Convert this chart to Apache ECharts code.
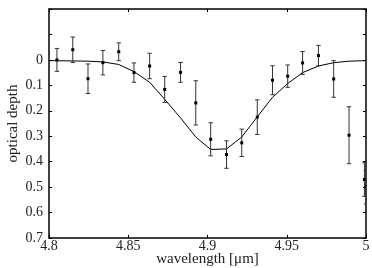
<!DOCTYPE html>
<html>
<head>
<meta charset="utf-8">
<script src="https://cdn.jsdelivr.net/npm/echarts@6/dist/echarts.min.js"></script>
<style>
  html, body { margin: 0; padding: 0; background: #fff; }
  #chart { width: 372px; height: 268px; }
</style>
</head>
<body>
<div id="chart"></div>
<script>
// measured points (wavelength in µm, optical depth, error)
var wavelength = [4.805, 4.815, 4.8246, 4.834, 4.844, 4.8536, 4.8635, 4.873, 4.883, 4.8926,
  4.902, 4.912, 4.9216, 4.9314, 4.941, 4.9506, 4.960, 4.970, 4.9796, 4.9893, 4.999, 5.0];
var depth = [0.0, -0.04, 0.074, 0.011, -0.032, 0.05, 0.024, 0.116, 0.049, 0.169,
  0.312, 0.372, 0.326, 0.225, 0.08, 0.064, 0.012, -0.017, 0.075, 0.296, 0.47, 0.5];
var err = [0.045, 0.05, 0.058, 0.048, 0.035, 0.038, 0.05, 0.051, 0.039, 0.087,
  0.065, 0.054, 0.054, 0.068, 0.057, 0.044, 0.045, 0.04, 0.072, 0.112, 0.066, 0.066];

// model curve
var modelX = [4.8, 4.815, 4.8246, 4.834, 4.844, 4.8536, 4.8635, 4.873, 4.883, 4.8926,
  4.902, 4.912, 4.9216, 4.9314, 4.941, 4.9506, 4.960, 4.970, 4.9796, 4.9893, 5.0];
var modelY = [0.003, 0.004, 0.005, 0.008, 0.018, 0.046, 0.088, 0.155, 0.228, 0.303,
  0.352, 0.35, 0.303, 0.224, 0.147, 0.093, 0.05, 0.024, 0.011, 0.005, 0.003];

var xTicks = [4.8, 4.85, 4.9, 4.95, 5];
var yTicks = [0, 0.1, 0.2, 0.3, 0.4, 0.5, 0.6, 0.7];

var chart = echarts.init(document.getElementById('chart'));
var font = 'Liberation Serif';

var points = wavelength.map(function (w, i) { return [w, depth[i], err[i]]; });
var model = modelX.map(function (w, i) { return [w, modelY[i]]; });

var tickStyle = {show: true, inside: true, length: 3, lineStyle: {color: '#000', width: 1}};
var lineStyle = {show: true, onZero: false, lineStyle: {color: '#000', width: 1.5}};

var option = {
  animation: false,
  grid: {left: 49, right: 6, top: 9, bottom: 30, containLabel: false, outerBoundsMode: 'none'},
  xAxis: [{
    type: 'value', min: 4.8, max: 5, interval: 0.05,
    name: 'wavelength [μm]', nameLocation: 'middle', nameGap: 14, nameMoveOverlap: false,
    nameTextStyle: {fontFamily: font, fontSize: 15, color: '#222'},
    axisLine: lineStyle, axisTick: tickStyle, splitLine: {show: false},
    axisLabel: {
      fontFamily: font, fontSize: 14, color: '#222', margin: 1,
      formatter: function (v) {
        var s = parseFloat(v.toFixed(2));
        return xTicks.indexOf(s) >= 0 ? String(s) : '';
      }
    }
  }, {
    type: 'value', position: 'top', min: 4.8, max: 5, interval: 0.05,
    axisLine: lineStyle, axisTick: tickStyle, axisLabel: {show: false}, splitLine: {show: false}
  }],
  yAxis: [{
    type: 'value', inverse: true, min: -0.2, max: 0.7, interval: 0.1,
    name: 'optical depth', nameLocation: 'middle', nameGap: 28, nameMoveOverlap: false,
    nameTextStyle: {fontFamily: font, fontSize: 15, color: '#222'},
    axisLine: lineStyle, axisTick: tickStyle, splitLine: {show: false},
    axisLabel: {
      fontFamily: font, fontSize: 14, color: '#222', margin: 6,
      formatter: function (v) {
        var s = Math.round(v * 10) / 10;
        return yTicks.indexOf(s) >= 0 ? String(s) : '';
      }
    }
  }, {
    type: 'value', position: 'right', inverse: true, min: -0.2, max: 0.7, interval: 0.1,
    axisLine: lineStyle, axisTick: tickStyle, axisLabel: {show: false}, splitLine: {show: false}
  }],
  series: [{
    type: 'line',
    data: model,
    showSymbol: false,
    lineStyle: {color: '#000', width: 1},
    z: 3
  }, {
    type: 'custom',
    data: points,
    renderItem: function (params, api) {
      var x = api.value(0), y = api.value(1), e = api.value(2);
      var top = api.coord([x, y - e]);
      var bot = api.coord([x, y + e]);
      var c = api.coord([x, y]);
      var cap = 2.2;
      var st = {stroke: '#333', lineWidth: 1};
      return {
        type: 'group',
        children: [
          {type: 'line', shape: {x1: top[0], y1: top[1], x2: bot[0], y2: bot[1]}, style: st},
          {type: 'line', shape: {x1: top[0] - cap, y1: top[1], x2: top[0] + cap, y2: top[1]}, style: st},
          {type: 'line', shape: {x1: bot[0] - cap, y1: bot[1], x2: bot[0] + cap, y2: bot[1]}, style: st},
          {type: 'rect', shape: {x: c[0] - 1.5, y: c[1] - 1.5, width: 3, height: 3}, style: {fill: '#000'}}
        ]
      };
    },
    clip: true,
    z: 4
  }]
};
chart.setOption(option);
</script>
</body>
</html>
